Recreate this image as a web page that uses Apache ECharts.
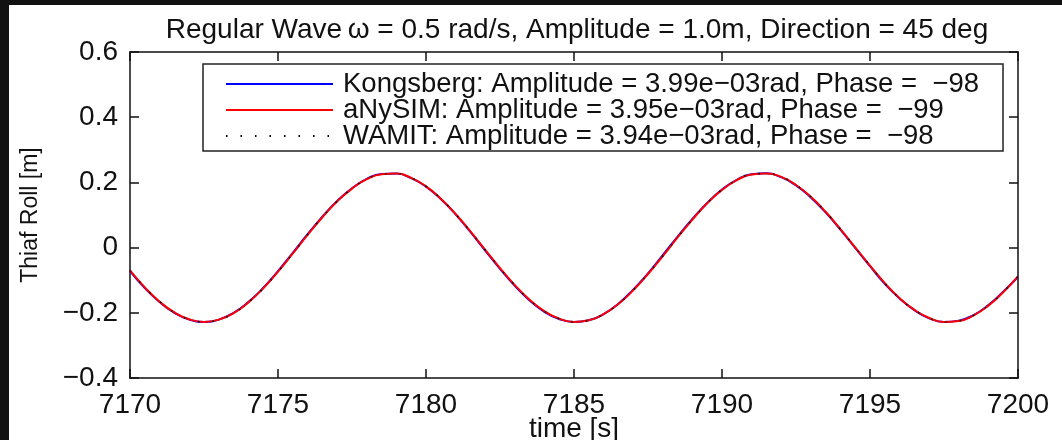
<!DOCTYPE html>
<html>
<head>
<meta charset="utf-8">
<script src="https://cdn.jsdelivr.net/npm/echarts@6/dist/echarts.min.js"></script>
<style>
html,body{margin:0;padding:0;background:#111;width:1062px;height:440px;overflow:hidden;}
#chart{position:absolute;left:9px;top:5px;width:1053px;height:435px;background:#fff;}
</style>
</head>
<body>
<div id="chart"></div>
<script>
const titleText = 'Regular Wave\u2009\u03c9 = 0.5 rad/s, Amplitude = 1.0m, Direction = 45 deg';
const xName = 'time [s]';
const yName = 'Thiaf Roll [m]';
const xTicks = [7170, 7175, 7180, 7185, 7190, 7195, 7200];
const yTicks = [-0.4, -0.2, 0, 0.2, 0.4, 0.6];
const seriesNames = [
  'Kongsberg: Amplitude = 3.99e\u221203rad, Phase =  \u221298',
  'aNySIM: Amplitude = 3.95e\u221203rad, Phase =  \u221299',
  'WAMIT: Amplitude = 3.94e\u221203rad, Phase =  \u221298'
];
const time = [7170,7170.5,7171,7171.5,7172,7172.5,7173,7173.5,7174,7174.5,7175,7175.5,7176,7176.5,7177,7177.5,7178,7178.5,7179,7179.5,7180,7180.5,7181,7181.5,7182,7182.5,7183,7183.5,7184,7184.5,7185,7185.5,7186,7186.5,7187,7187.5,7188,7188.5,7189,7189.5,7190,7190.5,7191,7191.5,7192,7192.5,7193,7193.5,7194,7194.5,7195,7195.5,7196,7196.5,7197,7197.5,7198,7198.5,7199,7199.5,7200];
const kongsberg = [-0.072,-0.124,-0.167,-0.200,-0.221,-0.228,-0.221,-0.200,-0.167,-0.124,-0.072,-0.016,0.041,0.095,0.143,0.182,0.211,0.226,0.227,0.213,0.187,0.149,0.102,0.048,-0.009,-0.065,-0.117,-0.162,-0.197,-0.219,-0.228,-0.223,-0.204,-0.172,-0.129,-0.079,-0.023,0.034,0.088,0.137,0.178,0.208,0.225,0.228,0.216,0.191,0.154,0.108,0.055,-0.001,-0.057,-0.111,-0.156,-0.192,-0.217,-0.228,-0.224,-0.207,-0.176,-0.135,-0.090];
const anysim = [-0.070,-0.122,-0.166,-0.199,-0.220,-0.228,-0.221,-0.201,-0.168,-0.125,-0.074,-0.018,0.039,0.093,0.142,0.181,0.210,0.225,0.227,0.214,0.188,0.150,0.103,0.050,-0.007,-0.063,-0.115,-0.160,-0.195,-0.218,-0.228,-0.223,-0.204,-0.173,-0.131,-0.081,-0.026,0.031,0.086,0.136,0.177,0.207,0.224,0.227,0.217,0.192,0.156,0.110,0.057,0.001,-0.055,-0.109,-0.155,-0.191,-0.216,-0.228,-0.225,-0.208,-0.178,-0.137,-0.088];
const wamit = [-0.070,-0.122,-0.165,-0.199,-0.220,-0.228,-0.221,-0.201,-0.168,-0.125,-0.074,-0.018,0.039,0.093,0.142,0.181,0.210,0.225,0.227,0.214,0.188,0.150,0.103,0.050,-0.007,-0.063,-0.115,-0.160,-0.195,-0.218,-0.228,-0.223,-0.204,-0.173,-0.131,-0.081,-0.026,0.031,0.086,0.136,0.177,0.207,0.224,0.227,0.217,0.192,0.156,0.110,0.057,0.001,-0.055,-0.109,-0.155,-0.191,-0.216,-0.228,-0.225,-0.208,-0.178,-0.137,-0.088];

const fontFamily = '"Liberation Sans", Arial, sans-serif';
const fmtNum = v => String(v).replace('-', '\u2212');
const pairs = arr => time.map((t, i) => [t, arr[i]]);

const chart = echarts.init(document.getElementById('chart'), null, {renderer: 'canvas'});
const axisLineStyle = {color: '#111', width: 1.5};
chart.setOption({
  animation: false,
  backgroundColor: '#fff',
  textStyle: {fontFamily: fontFamily},
  title: {
    text: titleText,
    left: 563, top: 6, textAlign: 'center',
    textStyle: {fontFamily: fontFamily, fontSize: 28, fontWeight: 'normal', color: '#111'}
  },
  grid: {left: 121, right: 44, top: 47, bottom: 62, containLabel: false, outerBoundsMode: 'none'},
  legend: {
    orient: 'vertical',
    left: 194, top: 59,
    padding: [6, 24, 1, 22],
    itemGap: -2,
    itemWidth: 107, itemHeight: 14,
    borderColor: '#222', borderWidth: 1.5,
    backgroundColor: '#fff',
    itemStyle: {opacity: 0},
    textStyle: {fontFamily: fontFamily, fontSize: 27.5, color: '#111', lineHeight: 26, padding: [0, 0, 0, 5]},
    data: seriesNames
  },
  xAxis: [{
    type: 'value', min: xTicks[0], max: xTicks[xTicks.length - 1], interval: 5,
    name: xName, nameLocation: 'middle', nameGap: 37, nameMoveOverlap: false,
    nameTextStyle: {fontFamily: fontFamily, fontSize: 28, color: '#111'},
    axisLine: {show: true, onZero: false, lineStyle: axisLineStyle},
    axisTick: {show: true, inside: true, length: 9, lineStyle: axisLineStyle},
    axisLabel: {fontFamily: fontFamily, fontSize: 28, color: '#111', margin: 13, formatter: fmtNum},
    splitLine: {show: false}
  }, {
    type: 'value', position: 'top', min: xTicks[0], max: xTicks[xTicks.length - 1], interval: 5,
    axisLine: {show: true, onZero: false, lineStyle: axisLineStyle},
    axisTick: {show: true, inside: true, length: 9, lineStyle: axisLineStyle},
    axisLabel: {show: false}, splitLine: {show: false}
  }],
  yAxis: [{
    type: 'value', min: yTicks[0], max: yTicks[yTicks.length - 1], interval: 0.2,
    name: yName, nameLocation: 'middle', nameGap: 88, nameRotate: 90, nameMoveOverlap: false,
    nameTextStyle: {fontFamily: fontFamily, fontSize: 23, color: '#111'},
    axisLine: {show: true, onZero: false, lineStyle: axisLineStyle},
    axisTick: {show: true, inside: true, length: 9, lineStyle: axisLineStyle},
    axisLabel: {fontFamily: fontFamily, fontSize: 28, color: '#111', margin: 12, formatter: v => fmtNum(Math.round(v * 10) / 10)},
    splitLine: {show: false}
  }, {
    type: 'value', position: 'right', min: yTicks[0], max: yTicks[yTicks.length - 1], interval: 0.2,
    axisLine: {show: true, onZero: false, lineStyle: axisLineStyle},
    axisTick: {show: true, inside: true, length: 9, lineStyle: axisLineStyle},
    axisLabel: {show: false}, splitLine: {show: false}
  }],
  series: [
    {name: seriesNames[0], type: 'line', data: pairs(kongsberg), smooth: true, symbol: 'none', z: 2,
     lineStyle: {color: '#0000ff', width: 2}, itemStyle: {color: '#0000ff'}},
    {name: seriesNames[1], type: 'line', data: pairs(anysim), smooth: true, symbol: 'none', z: 3,
     lineStyle: {color: '#ff0000', width: 2}, itemStyle: {color: '#ff0000'}},
    {name: seriesNames[2], type: 'line', data: pairs(wamit), smooth: true, symbol: 'none', z: 4,
     lineStyle: {color: '#000', width: 1.5, type: [1.5, 13]}, itemStyle: {color: '#000'}}
  ]
});
</script>
</body>
</html>
